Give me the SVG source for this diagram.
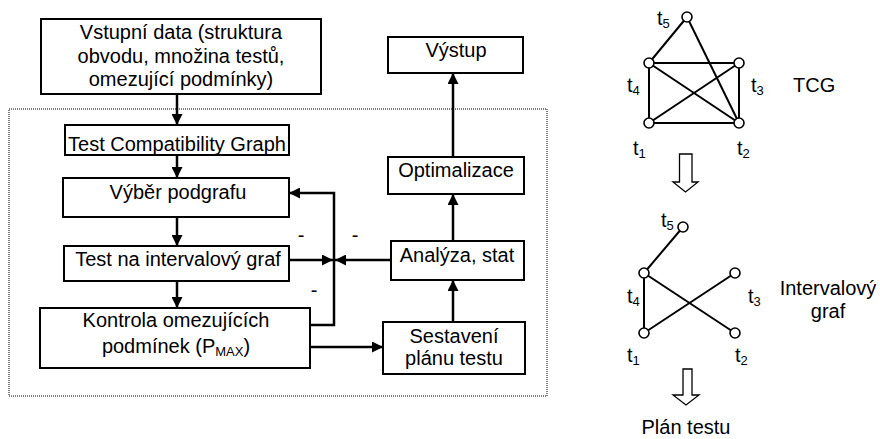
<svg xmlns="http://www.w3.org/2000/svg" width="880" height="439" viewBox="0 0 880 439">
<style>
text{font-family:"Liberation Sans",Arial,sans-serif;font-size:20px;fill:#000}
.c{text-anchor:middle}
.box{fill:#fff;stroke:#000;stroke-width:2}
.con{fill:none;stroke:#000;stroke-width:2.5}
.e{stroke:#000;stroke-width:2;fill:none}
.n{fill:#fff;stroke:#000;stroke-width:1.6}
.sub{font-size:13px}
.ha{fill:#fff;stroke:#000;stroke-width:1.3}
</style>
<defs>
<marker id="ah" viewBox="0 0 10 10" refX="10" refY="5" markerWidth="11" markerHeight="11" markerUnits="userSpaceOnUse" orient="auto">
<path d="M0,0 L10,5 L0,10 Z" fill="#000"/>
</marker>
</defs>
<rect x="9" y="109" width="538" height="287" fill="none" stroke="#000" stroke-width="1" stroke-dasharray="1,1"/>
<g id="connectors">
<line class="con" x1="177" y1="94" x2="177" y2="125" marker-end="url(#ah)"/>
<line class="con" x1="177" y1="155" x2="177" y2="178" marker-end="url(#ah)"/>
<line class="con" x1="177" y1="217" x2="177" y2="246" marker-end="url(#ah)"/>
<line class="con" x1="177" y1="281" x2="177" y2="308" marker-end="url(#ah)"/>
<polyline class="con" points="310,325 334,325 334,193 289,193" marker-end="url(#ah)"/>
<line class="con" x1="289" y1="260" x2="333" y2="260" marker-end="url(#ah)"/>
<line class="con" x1="391" y1="260" x2="335" y2="260" marker-end="url(#ah)"/>
<line class="con" x1="310" y1="347" x2="383" y2="347" marker-end="url(#ah)"/>
<line class="con" x1="453" y1="322" x2="453" y2="280" marker-end="url(#ah)"/>
<line class="con" x1="453" y1="241" x2="453" y2="194" marker-end="url(#ah)"/>
<line class="con" x1="453" y1="157" x2="453" y2="73" marker-end="url(#ah)"/>
<text class="c" x="301" y="242">-</text>
<text class="c" x="355" y="242">-</text>
<text class="c" x="314" y="297">-</text>
</g>
<g id="vstup">
<rect class="box" x="41" y="19" width="280" height="75"/>
<text class="c" x="181" y="39">Vstupní data (struktura</text>
<text class="c" x="181" y="63">obvodu, množina testů,</text>
<text class="c" x="181" y="86">omezující podmínky)</text>
</g>
<g id="tcg">
<rect class="box" x="65" y="125" width="224" height="30"/>
<text class="c" x="177" y="151">Test Compatibility Graph</text>
</g>
<g id="vyber">
<rect class="box" x="63" y="178" width="226" height="39"/>
<text class="c" x="178" y="199">Výběr podgrafu</text>
</g>
<g id="testint">
<rect class="box" x="64" y="246" width="225" height="35"/>
<text class="c" x="178" y="266">Test na intervalový graf</text>
</g>
<g id="kontrola">
<rect class="box" x="40" y="308" width="270" height="60"/>
<text class="c" x="176" y="327">Kontrola omezujících</text>
<text class="c" x="176" y="353">podmínek (P<tspan class="sub" dy="3">MAX</tspan><tspan dy="-3">)</tspan></text>
</g>
<g id="vystup">
<rect class="box" x="388" y="37" width="135" height="36"/>
<text class="c" x="456" y="57">Výstup</text>
</g>
<g id="optim">
<rect class="box" x="388" y="157" width="136" height="37"/>
<text class="c" x="456" y="177">Optimalizace</text>
</g>
<g id="analyza">
<rect class="box" x="391" y="241" width="133" height="39"/>
<text class="c" x="457" y="262">Analýza, stat</text>
</g>
<g id="sestaveni">
<rect class="box" x="383" y="322" width="142" height="52"/>
<text class="c" x="454" y="343">Sestavení</text>
<text class="c" x="454" y="365">plánu testu</text>
</g>
<g id="graph-tcg">
<line class="e" x1="687" y1="17" x2="649" y2="63"/>
<line class="e" x1="687" y1="17" x2="739" y2="123"/>
<line class="e" x1="649" y1="63" x2="739" y2="63"/>
<line class="e" x1="649" y1="63" x2="649" y2="123"/>
<line class="e" x1="649" y1="63" x2="739" y2="123"/>
<line class="e" x1="739" y1="63" x2="649" y2="123"/>
<line class="e" x1="739" y1="63" x2="739" y2="123"/>
<line class="e" x1="649" y1="123" x2="739" y2="123"/>
<circle class="n" cx="687" cy="17" r="5"/>
<circle class="n" cx="649" cy="63" r="5"/>
<circle class="n" cx="739" cy="63" r="5"/>
<circle class="n" cx="649" cy="123" r="5"/>
<circle class="n" cx="739" cy="123" r="5"/>
<text x="657" y="25">t<tspan class="sub" dy="3">5</tspan></text>
<text x="627" y="92">t<tspan class="sub" dy="3">4</tspan></text>
<text x="751" y="92">t<tspan class="sub" dy="3">3</tspan></text>
<text x="633" y="155">t<tspan class="sub" dy="3">1</tspan></text>
<text x="737" y="155">t<tspan class="sub" dy="3">2</tspan></text>
<text x="793" y="92">TCG</text>
</g>
<path class="ha" d="M679.5,154 L692,154 L692,182 L698,182 L685.5,192 L673,182 L679.5,182 Z"/>
<g id="graph-int">
<line class="e" x1="683" y1="227" x2="644" y2="273"/>
<line class="e" x1="644" y1="273" x2="644" y2="333"/>
<line class="e" x1="644" y1="273" x2="735" y2="333"/>
<line class="e" x1="735" y1="273" x2="644" y2="333"/>
<circle class="n" cx="683" cy="227" r="5"/>
<circle class="n" cx="644" cy="273" r="5"/>
<circle class="n" cx="735" cy="273" r="5"/>
<circle class="n" cx="644" cy="333" r="5"/>
<circle class="n" cx="735" cy="333" r="5"/>
<text x="661" y="227">t<tspan class="sub" dy="3">5</tspan></text>
<text x="627" y="303">t<tspan class="sub" dy="3">4</tspan></text>
<text x="748" y="303">t<tspan class="sub" dy="3">3</tspan></text>
<text x="627" y="362">t<tspan class="sub" dy="3">1</tspan></text>
<text x="735" y="362">t<tspan class="sub" dy="3">2</tspan></text>
<text class="c" x="828" y="295">Intervalový</text>
<text class="c" x="828" y="318">graf</text>
</g>
<path class="ha" d="M683,369 L692,369 L692,395 L699,395 L686,405 L673,395 L683,395 Z"/>
<text class="c" x="686" y="434">Plán testu</text>
</svg>
